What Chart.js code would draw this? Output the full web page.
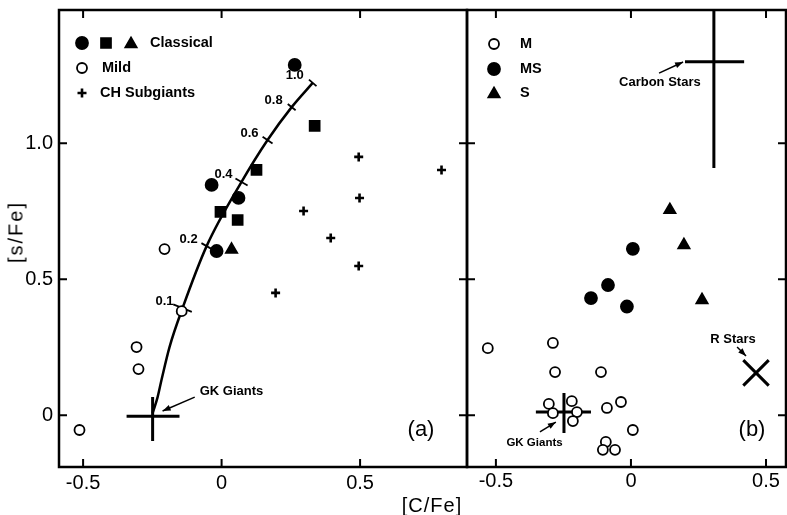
<!DOCTYPE html>
<html>
<head>
<meta charset="utf-8">
<script src="https://cdn.jsdelivr.net/npm/chart.js@4.4.1/dist/chart.umd.min.js"></script>
<style>
  body { margin: 0; background: #fff; }
  #wrap { position: relative; width: 787px; height: 515px; overflow: hidden; font-family: "Liberation Sans", Arial, sans-serif; }
  #left { position: absolute; left: 0; top: 0; }
  #right { position: absolute; left: 465px; top: 0; }
  .axis-title { position: absolute; font-size: 20px; color: #000; white-space: nowrap; }
  #xTitle { left: 432px; top: 505px; transform: translate(-50%, -50%); letter-spacing: 1px; }
  #yTitle { left: 16px; top: 232px; transform: translate(-50%, -50%) rotate(-90deg); letter-spacing: 2px; }
</style>
</head>
<body>
<div id="wrap">
  <canvas id="left" width="470" height="515"></canvas>
  <canvas id="right" width="322" height="515"></canvas>
  <div class="axis-title" id="xTitle">[C/Fe]</div>
  <div class="axis-title" id="yTitle">[s/Fe]</div>
</div>
<script>
const FONT = '"Liberation Sans", Arial, sans-serif';

// axis ticks (both panels share the y range)
const xTickValues = [-0.5, 0, 0.5];
const yTickValues = [0, 0.5, 1.0];

// ---- panel (a) ----
const classicalCircleX = [0.264, -0.036, 0.061, -0.018];
const classicalCircleY = [1.288, 0.847, 0.799, 0.604];
const classicalSquareX = [0.336, 0.126, -0.004, 0.058];
const classicalSquareY = [1.064, 0.902, 0.748, 0.718];
const classicalTriangleX = [0.036];
const classicalTriangleY = [0.609];
const mildX = [-0.206, -0.144, -0.307, -0.300, -0.513];
const mildY = [0.611, 0.383, 0.251, 0.170, -0.054];
const chSubgiantX = [0.495, 0.794, 0.498, 0.296, 0.394, 0.495, 0.195];
const chSubgiantY = [0.950, 0.902, 0.799, 0.751, 0.652, 0.549, 0.450];

// mixing curve from the GK giants, with marked fractions
const curveX = [-0.249, -0.231, -0.217, -0.188, -0.141, -0.054, 0.072, 0.166, 0.253, 0.329];
const curveY = [0.008, 0.067, 0.130, 0.251, 0.394, 0.622, 0.858, 1.012, 1.133, 1.222];
const fractionX = [-0.141, -0.054, 0.072, 0.166, 0.253, 0.329];
const fractionY = [0.394, 0.622, 0.858, 1.012, 1.133, 1.222];
const fractionLabels = ['0.1', '0.2', '0.4', '0.6', '0.8', '1.0'];

// GK giants mean with error bars
const gkAX = [-0.249], gkAY = [-0.003];
const gkAErrX = [-0.343, -0.152];
const gkAErrY = [0.067, -0.094];

// ---- panel (b) ----
const mX = [-0.530, -0.289, -0.281, -0.111, -0.304, -0.289, -0.219, -0.200, -0.215, -0.089, -0.037, 0.007, -0.093, -0.104, -0.059];
const mY = [0.247, 0.266, 0.159, 0.159, 0.042, 0.008, 0.052, 0.012, -0.021, 0.027, 0.049, -0.054, -0.098, -0.127, -0.127];
const msX = [0.007, -0.085, -0.148, -0.015];
const msY = [0.612, 0.479, 0.431, 0.400];
const sX = [0.144, 0.196, 0.263];
const sY = [0.755, 0.626, 0.424];

const gkBX = [-0.248], gkBY = [0.012];
const gkBErrX = [-0.352, -0.148];
const gkBErrY = [0.082, -0.065];
const carbonX = [0.307], carbonY = [1.300];
const carbonErrX = [0.200, 0.419];
const carbonErrY = [1.600, 0.909];
const rStarX = [0.463], rStarY = [0.156];

const pts = (xs, ys) => xs.map((v, i) => ({ x: v, y: ys[i] }));
const fmt = v => (v === 0 ? '0' : v.toFixed(1));

function errBars(cx, cy, ex, ey) {
  const base = { showLine: true, borderColor: '#000', borderWidth: 3, pointRadius: 0, order: 5 };
  return [
    Object.assign({ data: pts(ex, [cy[0], cy[0]]) }, base),
    Object.assign({ data: pts([cx[0], cx[0]], ey) }, base)
  ];
}

function markers(xs, ys, style, radius, filled, lw) {
  return {
    data: pts(xs, ys),
    pointStyle: style,
    pointRadius: radius,
    pointBackgroundColor: filled ? '#000' : '#fff',
    pointBorderColor: '#000',
    pointBorderWidth: lw || 1.8
  };
}

function scales(xMin, xMax, showY, xPad) {
  return {
    x: {
      type: 'linear', min: xMin, max: xMax,
      afterBuildTicks: s => { s.ticks = xTickValues.map(v => ({ value: v })); },
      afterFit: s => { s.height = 48; s.paddingLeft = 0; s.paddingRight = 0; },
      grid: { display: false, drawTicks: false },
      border: { display: false },
      ticks: { color: '#000', padding: xPad, maxRotation: 0, autoSkip: false, font: { size: 20, family: FONT }, callback: fmt }
    },
    y: {
      type: 'linear', min: -0.19, max: 1.49,
      afterBuildTicks: s => { s.ticks = yTickValues.map(v => ({ value: v })); },
      afterFit: s => { s.width = showY ? 59 : 0; s.paddingTop = 0; s.paddingBottom = 0; },
      grid: { display: false, drawTicks: false },
      border: { display: false },
      ticks: { display: showY, color: '#000', padding: 6, font: { size: 20, family: FONT }, callback: fmt }
    }
  };
}

function drawFrame(chart) {
  const { ctx, chartArea: a, scales: { x, y } } = chart;
  ctx.save();
  ctx.strokeStyle = '#000';
  ctx.lineWidth = 2.5;
  ctx.strokeRect(a.left, a.top, a.right - a.left, a.bottom - a.top);
  ctx.lineWidth = 2;
  ctx.beginPath();
  xTickValues.forEach(v => {
    const p = x.getPixelForValue(v);
    ctx.moveTo(p, a.top); ctx.lineTo(p, a.top + 8);
    ctx.moveTo(p, a.bottom); ctx.lineTo(p, a.bottom - 8);
  });
  yTickValues.forEach(v => {
    const p = y.getPixelForValue(v);
    ctx.moveTo(a.left, p); ctx.lineTo(a.left + 8, p);
    ctx.moveTo(a.right, p); ctx.lineTo(a.right - 8, p);
  });
  ctx.stroke();
  ctx.restore();
}

function arrow(chart, x1, y1, x2, y2) {
  const { ctx, scales: { x, y } } = chart;
  const ax = x.getPixelForValue(x1), ay = y.getPixelForValue(y1);
  const bx = x.getPixelForValue(x2), by = y.getPixelForValue(y2);
  const ang = Math.atan2(by - ay, bx - ax);
  ctx.save();
  ctx.strokeStyle = '#000';
  ctx.fillStyle = '#000';
  ctx.lineWidth = 1.5;
  ctx.beginPath();
  ctx.moveTo(ax, ay); ctx.lineTo(bx, by);
  ctx.stroke();
  ctx.beginPath();
  ctx.moveTo(bx, by);
  ctx.lineTo(bx - 8 * Math.cos(ang) + 3 * Math.sin(ang), by - 8 * Math.sin(ang) - 3 * Math.cos(ang));
  ctx.lineTo(bx - 8 * Math.cos(ang) - 3 * Math.sin(ang), by - 8 * Math.sin(ang) + 3 * Math.cos(ang));
  ctx.closePath();
  ctx.fill();
  ctx.restore();
}

function label(chart, text, xv, yv, size, align) {
  const { ctx, scales: { x, y } } = chart;
  ctx.save();
  ctx.fillStyle = '#000';
  ctx.font = 'bold ' + size + 'px ' + FONT;
  ctx.textAlign = align || 'center';
  ctx.textBaseline = 'middle';
  ctx.fillText(text, x.getPixelForValue(xv), y.getPixelForValue(yv));
  ctx.restore();
}

function legendRow(ctx, items, textX, textY, text) {
  items.forEach(it => {
    ctx.fillStyle = it.filled ? '#000' : '#fff';
    ctx.strokeStyle = '#000';
    ctx.lineWidth = it.style === 'cross' ? 2.6 : 1.8;
    Chart.helpers.drawPoint(ctx, { pointStyle: it.style, radius: it.r, borderWidth: ctx.lineWidth, rotation: 0 }, it.x, it.y);
  });
  ctx.fillStyle = '#000';
  ctx.font = 'bold 14.5px ' + FONT;
  ctx.textAlign = 'left';
  ctx.textBaseline = 'middle';
  ctx.fillText(text, textX, textY);
}

function panelTag(chart, text, dx) {
  const { ctx, chartArea: a } = chart;
  ctx.save();
  ctx.fillStyle = '#000';
  ctx.font = '22px ' + FONT;
  ctx.textAlign = 'center';
  ctx.textBaseline = 'middle';
  ctx.fillText(text, a.right - dx, a.bottom - 37);
  ctx.restore();
}

const panelAPlugin = {
  id: 'panelA',
  afterDatasetsDraw(chart) {
    const { ctx, chartArea: a, scales: { x, y } } = chart;
    drawFrame(chart);
    // fraction labels along the mixing curve
    ctx.save();
    ctx.fillStyle = '#000';
    ctx.font = 'bold 13px ' + FONT;
    ctx.textAlign = 'right';
    ctx.textBaseline = 'middle';
    fractionLabels.forEach((t, i) => {
      ctx.fillText(t, x.getPixelForValue(fractionX[i]) - 9, y.getPixelForValue(fractionY[i]) - 7);
    });
    ctx.restore();
    label(chart, 'GK Giants', -0.079, 0.089, 13, 'left');
    arrow(chart, -0.097, 0.067, -0.213, 0.016);
    // legend
    ctx.save();
    const L = a.left, T = a.top;
    legendRow(ctx, [
      { style: 'circle', r: 6, filled: true, x: L + 23, y: T + 33 },
      { style: 'rect', r: 7, filled: true, x: L + 47, y: T + 33 },
      { style: 'triangle', r: 6.5, filled: true, x: L + 72, y: T + 34 }
    ], L + 91, T + 33, 'Classical');
    legendRow(ctx, [{ style: 'circle', r: 5, filled: false, x: L + 23, y: T + 58 }], L + 43, T + 58, 'Mild');
    legendRow(ctx, [{ style: 'cross', r: 4.5, filled: false, x: L + 23, y: T + 83 }], L + 41, T + 83, 'CH Subgiants');
    ctx.restore();
    panelTag(chart, '(a)', 46);
  }
};

const panelBPlugin = {
  id: 'panelB',
  afterDatasetsDraw(chart) {
    const { ctx, chartArea: a } = chart;
    drawFrame(chart);
    label(chart, 'Carbon Stars', 0.107, 1.225, 13, 'center');
    arrow(chart, 0.104, 1.258, 0.193, 1.299);
    label(chart, 'R Stars', 0.378, 0.280, 13, 'center');
    arrow(chart, 0.393, 0.251, 0.426, 0.218);
    label(chart, 'GK Giants', -0.357, -0.101, 11.5, 'center');
    arrow(chart, -0.337, -0.061, -0.278, -0.025);
    ctx.save();
    const L = a.left, T = a.top;
    legendRow(ctx, [{ style: 'circle', r: 5, filled: false, x: L + 27, y: T + 34 }], L + 53, T + 34, 'M');
    legendRow(ctx, [{ style: 'circle', r: 6, filled: true, x: L + 27, y: T + 59 }], L + 53, T + 59, 'MS');
    legendRow(ctx, [{ style: 'triangle', r: 6.5, filled: true, x: L + 27, y: T + 84 }], L + 53, T + 83, 'S');
    ctx.restore();
    panelTag(chart, '(b)', 34);
  }
};

const common = {
  responsive: false,
  animation: false,
  events: [],
  plugins: { legend: { display: false }, tooltip: { enabled: false } }
};

new Chart(document.getElementById('left'), {
  type: 'scatter',
  data: {
    datasets: [
      markers(classicalCircleX, classicalCircleY, 'circle', 6, true),
      markers(classicalSquareX, classicalSquareY, 'rect', 7, true),
      markers(classicalTriangleX, classicalTriangleY, 'triangle', 6.5, true),
      markers(mildX, mildY, 'circle', 5, false),
      markers(chSubgiantX, chSubgiantY, 'cross', 4.5, false, 2.6),
      {
        data: pts(fractionX, fractionY),
        pointStyle: 'line',
        pointRadius: [10, 6, 7, 6, 5, 5],
        rotation: [22, 30, 30, 34, 38, 41],
        pointBorderColor: '#000',
        pointBorderWidth: 1.8,
        order: 4
      },
      {
        data: pts(curveX, curveY),
        showLine: true,
        cubicInterpolationMode: 'monotone',
        borderColor: '#000',
        borderWidth: 2.5,
        pointRadius: 0,
        order: 10
      },
      ...errBars(gkAX, gkAY, gkAErrX, gkAErrY)
    ]
  },
  options: Object.assign({}, common, {
    layout: { autoPadding: false, padding: { left: 0, right: 3, top: 10, bottom: 0 } },
    scales: scales(-0.587, 0.886, true, 4)
  }),
  plugins: [panelAPlugin]
});

new Chart(document.getElementById('right'), {
  type: 'scatter',
  data: {
    datasets: [
      markers(mX, mY, 'circle', 5, false),
      markers(msX, msY, 'circle', 6, true),
      markers(sX, sY, 'triangle', 6.5, true),
      markers(rStarX, rStarY, 'crossRot', 18, false, 3),
      ...errBars(gkBX, gkBY, gkBErrX, gkBErrY),
      ...errBars(carbonX, carbonY, carbonErrX, carbonErrY)
    ]
  },
  options: Object.assign({}, common, {
    layout: { autoPadding: false, padding: { left: 2, right: 1, top: 10, bottom: 0 } },
    scales: scales(-0.607, 0.574, false, 2)
  }),
  plugins: [panelBPlugin]
});
</script>
</body>
</html>
